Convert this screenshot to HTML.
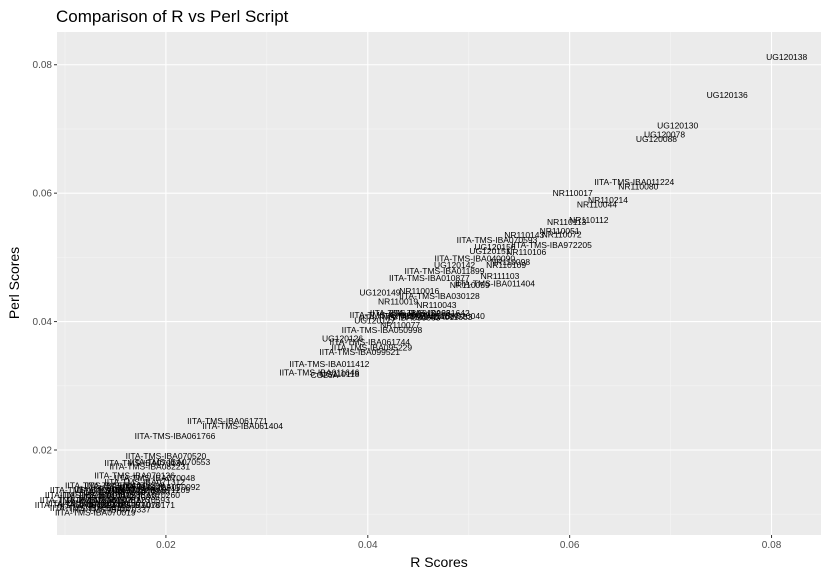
<!DOCTYPE html>
<html><head><meta charset="utf-8"><style>
body{margin:0;background:#fff;font-family:"Liberation Sans",sans-serif}
svg text{font-family:"Liberation Sans",sans-serif}
</style></head><body>
<svg id="chart" width="829" height="574">
<text x="56" y="22" font-size="17" fill="#000">Comparison of R vs Perl Script</text>
<rect x="57" y="32" width="764" height="503" fill="#EBEBEB"/>
<g id="grid"></g>
<g id="ticks"></g>
<g id="labels"></g>
<text x="439" y="567" font-size="14" text-anchor="middle">R Scores</text>
<text transform="translate(19,283) rotate(-90)" font-size="14" text-anchor="middle">Perl Scores</text>
</svg>
<script>
const labels=["UG120138","UG120136","UG120130","UG120078","UG120088","IITA-TMS-IBA011224","NR110080","NR110017","NR110214","NR110044","NR110112","NR110113","NR110051","NR110072","NR110143","IITA-TMS-IBA972205","IITA-TMS-IBA070593","UG120156","NR110106","UG120151","IITA-TMS-IBA040090","NR110098","UG120142","NR110109","IITA-TMS-IBA011899","NR111103","IITA-TMS-IBA010877","IITA-TMS-IBA011404","NR110059","NR110016","UG120149","IITA-TMS-IBA030128","NR110019","NR110043","IITA-TMS-IBA011663","IITA-TMS-IBA000070","IITA-TMS-IBA010063","IITA-TMS-IBA961642","IITA-TMS-IBA020040","IITA-TMS-IBA030063","IITA-TMS-IBA011087","UG120127","NR110077","IITA-TMS-IBA050998","UG120126","IITA-TMS-IBA061744","IITA-TMS-IBA095229","IITA-TMS-IBA099521","IITA-TMS-IBA011412","IITA-TMS-IBA011646","UG110118","CO26A","IITA-TMS-IBA061771","IITA-TMS-IBA061404","IITA-TMS-IBA061766","IITA-TMS-IBA070520","IITA-TMS-IBA070553","IITA-TMS-IBA070134","IITA-TMS-IBA082231","IITA-TMS-IBA070136","IITA-TMS-IBA070048","IITA-TMS-IBA070269","IITA-TMS-IBA071023","IITA-TMS-IBA071123","IITA-TMS-IBA070335","IITA-TMS-IBA070290","IITA-TMS-IBA070211","IITA-TMS-IBA070599","IITA-TMS-IBA064052","IITA-TMS-IBA070337","IITA-TMS-IBA071018","IITA-TMS-IBA071001","IITA-TMS-IBA070166","IITA-TMS-IBA070593","IITA-TMS-IBA070260","IITA-TMS-IBA071209","IITA-TMS-IBA070019","IITA-TMS-IBA070220","IITA-TMS-IBA070398","IITA-TMS-IBA070444","IITA-TMS-IBA071312","IITA-TMS-IBA070250","IITA-TMS-IBA070171","IITA-TMS-IBA070092","IITA-TMS-IBA064052","IITA-TMS-IBA070282","IITA-TMS-IBA070445"];
const rScores=[.0815,.0756,.0707,.0694,.0686,.0664,.0668,.0603,.0638,.0627,.0619,.0597,.0590,.0592,.0555,.0582,.0528,.0526,.0557,.0521,.0506,.0541,.0486,.0537,.0476,.0531,.0461,.0526,.0501,.0451,.0412,.0471,.0430,.0468,.0464,.0422,.0442,.0461,.0476,.0432,.0451,.0407,.0432,.0414,.0375,.0402,.0404,.0392,.0362,.0352,.0372,.0357,.0261,.0276,.0209,.0200,.0204,.0179,.0184,.0169,.0189,.0125,.0135,.0145,.0154,.0164,.0174,.0135,.0125,.0145,.0154,.0115,.0120,.0164,.0174,.0184,.0130,.0149,.0159,.0140,.0179,.0123,.0169,.0194,.0110,.0135,.0154];
const perlScores=[.0812,.0753,.0705,.0691,.0684,.0617,.0610,.0600,.0589,.0582,.0558,.0555,.0541,.0536,.0535,.0519,.0527,.0516,.0508,.0510,.0498,.0493,.0488,.0488,.0479,.0471,.0468,.0459,.0457,.0448,.0445,.0440,.0431,.0426,.0407,.0410,.0413,.0413,.0409,.0406,.0409,.0402,.0395,.0387,.0374,.0368,.0360,.0353,.0334,.0321,.0318,.0317,.0245,.0237,.0222,.0191,.0181,.0180,.0174,.0160,.0156,.0138,.0130,.0122,.0127,.0135,.0141,.0114,.0110,.0107,.0114,.0122,.0130,.0122,.0130,.0138,.0103,.0138,.0145,.0145,.0150,.0117,.0114,.0142,.0114,.0122,.0135];
const xTicks=[0.02,0.04,0.06,0.08];
const yTicks=[0.02,0.04,0.06,0.08];
const xMinor=[0.01,0.03,0.05,0.07];
const yMinor=[0.01,0.03,0.05,0.07];
const X0=57,X1=821,Y0=32,Y1=535,xmin=0.00921,xmax=0.0849,ymin=0.00676,ymax=0.0851;
const sx=v=>X0+(v-xmin)/(xmax-xmin)*(X1-X0);
const sy=v=>Y1-(v-ymin)/(ymax-ymin)*(Y1-Y0);
const NS="http://www.w3.org/2000/svg";
const grid=document.getElementById('grid'),ticks=document.getElementById('ticks'),lab=document.getElementById('labels');
function mk(tag,attrs,parent){const e=document.createElementNS(NS,tag);for(const k in attrs)e.setAttribute(k,attrs[k]);parent.appendChild(e);return e;}
xMinor.forEach(v=>{const l=mk('line',{x1:sx(v),x2:sx(v),y1:Y0,y2:Y1,stroke:'#F5F5F5','stroke-width':0.6},grid);

});
yMinor.forEach(v=>{const l=mk('line',{x1:X0,x2:X1,y1:sy(v),y2:sy(v),stroke:'#F5F5F5','stroke-width':0.6},grid);

});
xTicks.forEach(v=>{const l=mk('line',{x1:sx(v),x2:sx(v),y1:Y0,y2:Y1,stroke:'#fff','stroke-width':1.1},grid);


const t=mk('line',{x1:sx(v),x2:sx(v),y1:Y1,y2:Y1+3,stroke:'#333'},ticks);


const tx=mk('text',{x:sx(v),y:Y1+13,'font-size':10,'text-anchor':'middle',fill:'#4d4d4d'},ticks);tx.textContent=v.toFixed(2);

});
yTicks.forEach(v=>{const l=mk('line',{x1:X0,x2:X1,y1:sy(v),y2:sy(v),stroke:'#fff','stroke-width':1.1},grid);


const t=mk('line',{x1:X0-3,x2:X0,y1:sy(v),y2:sy(v),stroke:'#333'},ticks);


const tx=mk('text',{x:X0-5,y:sy(v)+3.5,'font-size':10,'text-anchor':'end',fill:'#4d4d4d'},ticks);tx.textContent=v.toFixed(2);

});
labels.forEach((s,i)=>{const t=mk('text',{x:sx(rScores[i]),y:sy(perlScores[i])+3,'font-size':8.5,'text-anchor':'middle',fill:'#000'},lab);t.textContent=s;

});
</script>
</body></html>
